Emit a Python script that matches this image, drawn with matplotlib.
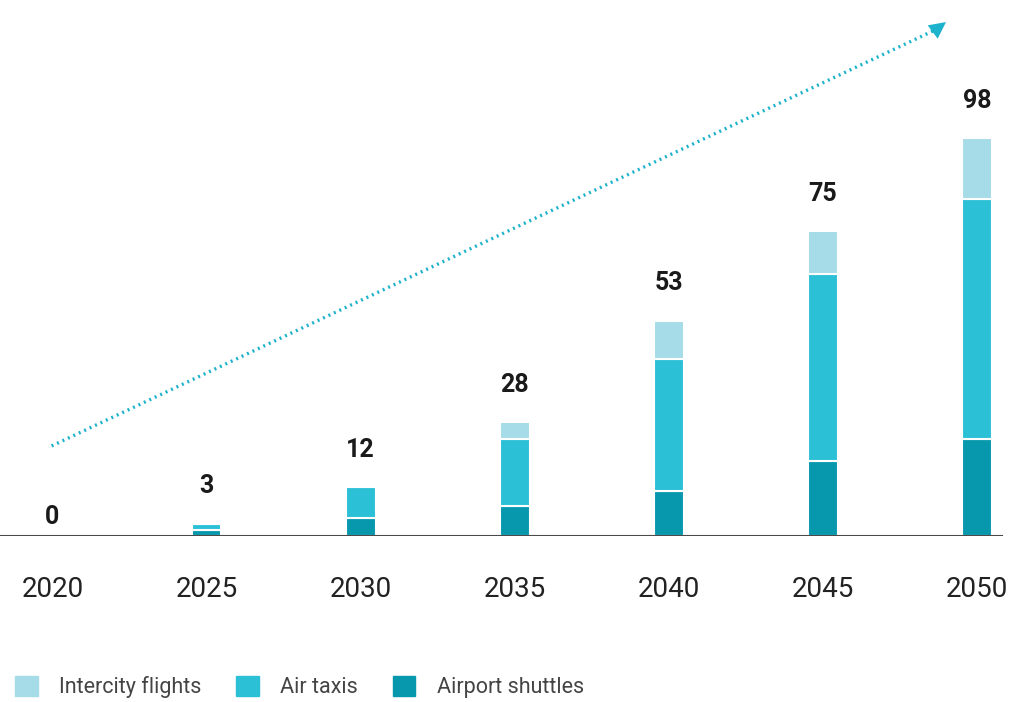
#!/usr/bin/env python3

import numpy as np
import matplotlib
matplotlib.use('Agg')
import matplotlib.pyplot as plt
from matplotlib.patches import Patch

plt.rcParams['font.family'] = ['Roboto', 'DejaVu Sans']

years = ['2020', '2025', '2030', '2035', '2040', '2045', '2050']
totals = [0, 3, 12, 28, 53, 75, 98]
airport_shuttles = [0, 1.5, 4.5, 7.5, 11, 18.5, 24]
air_taxis = [0, 1.5, 7.5, 16.5, 32.5, 46, 59]
intercity_flights = [0, 0, 0, 4, 9.5, 10.5, 15]

col_intercity = '#a6dbe8'
col_taxis = '#2cc0d7'
col_shuttles = '#0898ae'

W, H = 1012, 702
fig = plt.figure(figsize=(W / 100, H / 100), dpi=100, facecolor='white')
ax = fig.add_axes([0, 166 / H, 1, 536 / H])

x = np.arange(len(years))
bw = 0.194
edge = dict(edgecolor='white', linewidth=1.5)
ax.bar(x, airport_shuttles, bw, color=col_shuttles, **edge)
ax.bar(x, air_taxis, bw, bottom=airport_shuttles, color=col_taxis, **edge)
bottom2 = np.array(airport_shuttles) + np.array(air_taxis)
ax.bar(x, intercity_flights, bw, bottom=bottom2, color=col_intercity, **edge)

ax.set_xlim(-0.34, 6.226)
ax.set_ylim(0, 132)
ax.plot([0, 0.99], [0, 0], transform=ax.get_yaxis_transform(), color='#4a4a4a', lw=1.5, zorder=3)

# totals above bars
for xi, t in zip(x, totals):
    off = 14 if t == 0 else 27
    ax.annotate(f'{t}', (xi, t), xytext=(0, off), textcoords='offset points',
                ha='center', va='center', fontsize=18, fontweight='bold', color='#1a1a1a')

ax.set_xticks(x, years)
ax.tick_params(axis='x', length=0, pad=29, labelsize=20, labelcolor='#222222')
ax.set_yticks([])
for s in ax.spines.values():
    s.set_visible(False)
ax.patch.set_alpha(0)

# dotted trend arrow
x0, y0 = 0.051, 0.168
x1, y1 = 0.925, 0.945
ax.plot([x0, x1], [y0, y1], transform=ax.transAxes, color='#1eb3cc',
        lw=2.4, linestyle=(0, (0.6, 1.2)), clip_on=False)
ax.annotate('', xy=(0.937, 0.962), xytext=(x1, y1), xycoords='axes fraction',
            textcoords='axes fraction',
            arrowprops=dict(arrowstyle='-|>', color='#1eb3cc', lw=0, mutation_scale=30))

handles = [Patch(color=col_intercity, label='Intercity flights'),
           Patch(color=col_taxis, label='Air taxis'),
           Patch(color=col_shuttles, label='Airport shuttles')]
leg = fig.legend(handles=handles, loc='lower left', bbox_to_anchor=(-0.004, -0.022),
                 ncol=3, frameon=False, fontsize=15.5, handlelength=1.05, handleheight=1.05,
                 handletextpad=1.0, columnspacing=1.6)
for t in leg.get_texts():
    t.set_color('#444444')

plt.savefig('out.png', dpi=100, facecolor=fig.get_facecolor())
